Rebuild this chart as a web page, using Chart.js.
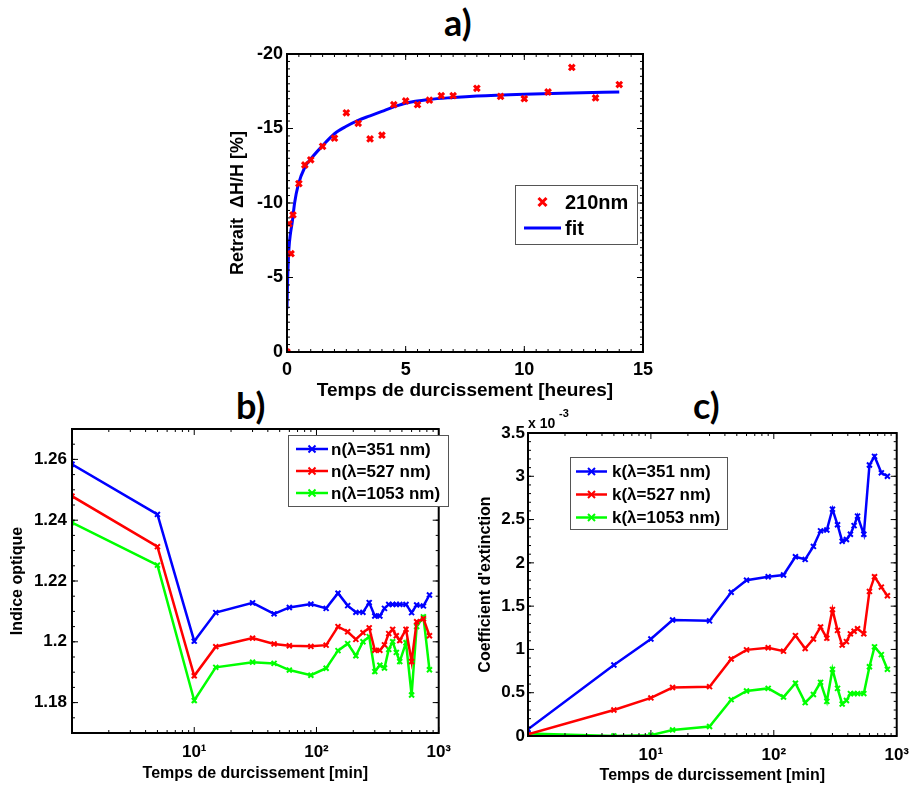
<!DOCTYPE html>
<html>
<head>
<meta charset="utf-8">
<script src="https://cdn.jsdelivr.net/npm/chart.js@4.4.1/dist/chart.umd.min.js"></script>
<style>
  body { margin: 0; background: #fff; width: 918px; height: 786px; position: relative; overflow: hidden; }
  canvas { position: absolute; }
  .panel { position: absolute; font: bold 36px Lato, "Open Sans", sans-serif; line-height: 1; color: #000; }
</style>
</head>
<body>
<div class="panel" style="left:444px;top:4px">a)</div>
<div class="panel" style="left:236px;top:387px">b)</div>
<div class="panel" style="left:693px;top:387px">c)</div>
<canvas id="chartA" width="480" height="410" style="left:180px;top:0"></canvas>
<canvas id="chartB" width="460" height="391" style="left:0;top:395px"></canvas>
<canvas id="chartC" width="458" height="391" style="left:460px;top:395px"></canvas>
<script>
// a) retrait, 210nm film
const shrinkHours = [0, 0.083, 0.17, 0.25, 0.5, 0.75, 1, 1.5, 2, 2.5, 3, 3.5, 4, 4.5, 5, 5.5, 6, 6.5, 7, 8, 9, 10, 11, 12, 13, 14];
const shrinkPct = [0, -8.6, -6.6, -9.2, -11.3, -12.55, -12.9, -13.8, -14.35, -16.05, -15.35, -14.3, -14.55, -16.6, -16.85, -16.6, -16.9, -17.2, -17.2, -17.7, -17.15, -17.0, -17.45, -19.1, -17.05, -17.95];
const fitHours = [0, 0.03, 0.08, 0.15, 0.22, 0.32, 0.47, 0.75, 1, 1.5, 2, 2.5, 3, 3.5, 4, 4.5, 5, 6, 7, 8, 10, 12, 14];
const fitPct = [-2.9, -5.0, -6.9, -8.0, -8.7, -10.0, -11.2, -12.4, -12.95, -13.85, -14.65, -15.15, -15.55, -15.85, -16.15, -16.45, -16.7, -16.95, -17.08, -17.18, -17.3, -17.38, -17.45];

// b) and c) cure time in minutes
const cureMin = [1, 5, 10, 15, 30, 45, 60, 90, 120, 150, 180, 210, 240, 270, 300, 330, 360, 390, 420, 450, 480, 540, 600, 660, 750, 840];
const n351 = [1.2584, 1.2419, 1.2002, 1.2096, 1.2128, 1.2092, 1.2113, 1.2124, 1.2110, 1.2160, 1.2119, 1.2097, 1.2097, 1.2129, 1.2085, 1.2085, 1.2110, 1.2123, 1.2123, 1.2123, 1.2123, 1.2123, 1.2096, 1.2121, 1.2118, 1.2154];
const n527 = [1.2479, 1.2313, 1.1888, 1.1984, 1.2012, 1.1993, 1.1987, 1.1985, 1.1989, 1.2050, 1.2033, 1.2008, 1.2030, 1.2046, 1.1972, 1.1972, 1.1990, 1.2027, 1.2041, 1.2020, 1.2004, 1.2041, 1.1935, 1.2066, 1.2076, 1.2020];
const n1053 = [1.2392, 1.2252, 1.1807, 1.1916, 1.1933, 1.1929, 1.1907, 1.1890, 1.1913, 1.1971, 1.1994, 1.1954, 1.2000, 1.2017, 1.1902, 1.1923, 1.1914, 1.1975, 1.2000, 1.1965, 1.1935, 1.1997, 1.1825, 1.2050, 1.2082, 1.1908];
const k351 = [0.077, 0.82, 1.12, 1.34, 1.33, 1.66, 1.80, 1.84, 1.86, 2.07, 2.04, 2.19, 2.37, 2.38, 2.62, 2.44, 2.25, 2.27, 2.33, 2.43, 2.54, 2.33, 3.13, 3.23, 3.04, 3.00];
const k527 = [0.02, 0.30, 0.44, 0.56, 0.57, 0.89, 0.995, 1.02, 0.98, 1.16, 1.01, 1.12, 1.26, 1.13, 1.46, 1.22, 1.05, 1.09, 1.18, 1.21, 1.24, 1.18, 1.67, 1.84, 1.72, 1.62];
const k1053 = [0.03, 0.0, 0.01, 0.07, 0.11, 0.42, 0.52, 0.55, 0.45, 0.61, 0.385, 0.48, 0.62, 0.40, 0.77, 0.55, 0.37, 0.41, 0.49, 0.49, 0.49, 0.49, 0.80, 1.03, 0.94, 0.77];

const labelsA = ['210nm', 'fit'];
const labelsN = ['n(λ=351 nm)', 'n(λ=527 nm)', 'n(λ=1053 nm)'];
const labelsK = ['k(λ=351 nm)', 'k(λ=527 nm)', 'k(λ=1053 nm)'];

const xTicksA = [0, 5, 10, 15];
const yTicksA = [-20, -15, -10, -5, 0];
const yTicksN = [1.18, 1.2, 1.22, 1.24, 1.26];
const yTicksK = [0, 0.5, 1, 1.5, 2, 2.5, 3, 3.5];
const decadeTicks = [10, 100, 1000];
const decadeText = { 10: '10¹', 100: '10²', 1000: '10³' };

const FONT = '"Liberation Sans", Arial, sans-serif';
const colors = ['#0000ff', '#ff0000', '#00ff00'];

// minor tick values for the frame (axis decoration only)
const range = (a, b, s) => { const r = []; for (let v = a; v <= b + 1e-9; v += s) r.push(+v.toFixed(4)); return r; };
const logMinor = [];
[1, 10, 100].forEach(d => { for (let m = 2; m <= 9; m++) logMinor.push(m * d); });

// MATLAB-like box with inward ticks on all four sides
const frameTicks = {
  id: 'frameTicks',
  afterDatasetsDraw(chart, args, o) {
    const { ctx, chartArea: a, scales } = chart;
    ctx.save();
    ctx.strokeStyle = '#000';
    ctx.lineWidth = 1;
    const seg = (x1, y1, x2, y2) => { ctx.beginPath(); ctx.moveTo(x1, y1); ctx.lineTo(x2, y2); ctx.stroke(); };
    const marks = (scale, vals, len) => {
      vals.forEach(v => {
        const p = scale.getPixelForValue(v);
        if (scale.isHorizontal()) {
          if (p < a.left - 0.5 || p > a.right + 0.5) return;
          seg(p, a.bottom, p, a.bottom - len);
          seg(p, a.top, p, a.top + len);
        } else {
          if (p < a.top - 0.5 || p > a.bottom + 0.5) return;
          seg(a.left, p, a.left + len, p);
          seg(a.right, p, a.right - len, p);
        }
      });
    };
    marks(scales.x, o.xMinor || [], o.minorLen);
    marks(scales.x, o.xMajor || [], o.majorLen);
    marks(scales.y, o.yMinor || [], o.minorLen);
    marks(scales.y, o.yMajor || [], o.majorLen);
    ctx.lineWidth = 2;
    ctx.strokeRect(a.left, a.top, a.right - a.left, a.bottom - a.top);
    if (o.exponent) {
      ctx.fillStyle = '#000';
      ctx.textBaseline = 'alphabetic';
      ctx.font = 'bold 14px ' + FONT;
      ctx.fillText('x 10', a.left, a.top - 5);
      ctx.font = 'bold 11px ' + FONT;
      ctx.fillText('-3', a.left + 31, a.top - 16);
    }
    ctx.restore();
  }
};

// legend drawn as a framed box inside the axes
const boxLegend = {
  id: 'boxLegend',
  afterDraw(chart, args, o) {
    const { ctx, chartArea: a } = chart;
    const bx = a.left + o.x, by = a.top + o.y;
    ctx.save();
    ctx.fillStyle = '#fff';
    ctx.fillRect(bx, by, o.w, o.h);
    ctx.strokeStyle = '#555';
    ctx.lineWidth = 1;
    ctx.strokeRect(bx + 0.5, by + 0.5, o.w, o.h);
    ctx.font = 'bold ' + o.size + 'px ' + FONT;
    ctx.textBaseline = 'middle';
    chart.data.datasets.forEach((ds, i) => {
      const cy = by + o.pad + o.rowH * (i + 0.5);
      const x0 = bx + o.inset, x1 = x0 + o.line;
      if (ds.showLine !== false) {
        ctx.strokeStyle = ds.borderColor;
        ctx.lineWidth = ds.borderWidth;
        ctx.beginPath(); ctx.moveTo(x0, cy); ctx.lineTo(x1, cy); ctx.stroke();
      }
      if (ds.pointRadius > 0) {
        const r = ds.pointRadius, cx = (x0 + x1) / 2;
        ctx.strokeStyle = ds.pointBorderColor || ds.borderColor;
        ctx.lineWidth = ds.pointBorderWidth;
        ctx.beginPath();
        ctx.moveTo(cx - r, cy - r); ctx.lineTo(cx + r, cy + r);
        ctx.moveTo(cx - r, cy + r); ctx.lineTo(cx + r, cy - r);
        ctx.stroke();
      }
      ctx.fillStyle = '#000';
      ctx.fillText(ds.label, x1 + o.gap, cy + 1);
    });
    ctx.restore();
  }
};

const pairs = (xs, ys) => xs.map((x, i) => ({ x, y: ys[i] }));
const fixTicks = vals => scale => { scale.ticks = vals.map(v => ({ value: v })); };

// ---- a) ----
new Chart(document.getElementById('chartA'), {
  type: 'scatter',
  data: {
    datasets: [{
      label: labelsA[0],
      data: pairs(shrinkHours, shrinkPct),
      showLine: false,
      borderColor: '#ff0000',
      pointStyle: 'crossRot',
      pointRadius: 4,
      pointBorderWidth: 3,
      pointBorderColor: '#ff0000'
    }, {
      label: labelsA[1],
      data: pairs(fitHours, fitPct),
      showLine: true,
      borderColor: '#0000ff',
      borderWidth: 3,
      pointRadius: 0,
      cubicInterpolationMode: 'monotone'
    }]
  },
  options: {
    responsive: false,
    animation: false,
    layout: { padding: { top: 54, right: 8, left: 40, bottom: 0 } },
    plugins: {
      legend: { display: false },
      tooltip: { enabled: false },
      frameTicks: { xMajor: xTicksA, xMinor: range(0, 15, 0.5), yMajor: yTicksA, yMinor: range(-20, 0, 0.5), majorLen: 6, minorLen: 3 },
      boxLegend: { x: 228, y: 131, w: 122, h: 59, pad: 4, rowH: 26, inset: 9, line: 37, gap: 4, size: 20 }
    },
    scales: {
      x: {
        type: 'linear', min: 0, max: 15,
        afterBuildTicks: fixTicks(xTicksA),
        afterFit: s => { s.height = 58; },
        grid: { display: false, drawTicks: false },
        border: { display: false },
        ticks: { color: '#000', padding: 7, maxRotation: 0, font: { family: FONT, size: 18, weight: 'bold' } },
        title: { display: true, text: 'Temps de durcissement [heures]', color: '#000', padding: { top: 0, bottom: 8 }, font: { family: FONT, size: 19, weight: 'bold' } }
      },
      y: {
        type: 'linear', min: -20, max: 0, reverse: true,
        afterBuildTicks: fixTicks(yTicksA),
        afterFit: s => { s.width = 67; },
        grid: { display: false, drawTicks: false },
        border: { display: false },
        ticks: { color: '#000', padding: 4, font: { family: FONT, size: 18, weight: 'bold' } },
        title: { display: true, text: 'Retrait  ΔH/H [%]', color: '#000', padding: { top: 7, bottom: 0 }, font: { family: FONT, size: 18, weight: 'bold' } }
      }
    }
  },
  plugins: [frameTicks, boxLegend]
});

// ---- b) and c) ----
function cureChart(id, series, names, yMin, yMax, yTicks, yMinor, yTitle, geo) {
  return new Chart(document.getElementById(id), {
    type: 'scatter',
    data: {
      datasets: series.map((vals, i) => ({
        label: names[i],
        data: pairs(cureMin, vals),
        showLine: true,
        borderColor: colors[i],
        borderWidth: 2.5,
        pointStyle: 'crossRot',
        pointRadius: 3.5,
        pointBorderWidth: 2,
        pointBorderColor: colors[i]
      }))
    },
    options: {
      responsive: false,
      animation: false,
      layout: { padding: { top: geo.top, right: geo.right, left: 0, bottom: 0 } },
      plugins: {
        legend: { display: false },
        tooltip: { enabled: false },
        frameTicks: { xMajor: decadeTicks, xMinor: logMinor, yMajor: yTicks, yMinor: yMinor, majorLen: 6, minorLen: 3, exponent: geo.exponent },
        boxLegend: geo.legend
      },
      scales: {
        x: {
          type: 'logarithmic', min: 1, max: 1000,
          afterBuildTicks: fixTicks(decadeTicks),
          afterFit: s => { s.height = geo.xHeight; },
          grid: { display: false, drawTicks: false },
          border: { display: false },
          ticks: { color: '#000', padding: geo.xPad, maxRotation: 0, autoSkip: false, callback: v => decadeText[v] || '', font: { family: FONT, size: 17, weight: 'bold' } },
          title: { display: true, text: 'Temps de durcissement [min]', color: '#000', padding: { top: 0, bottom: geo.xTitlePad }, font: { family: FONT, size: 16, weight: 'bold' } }
        },
        y: {
          type: 'linear', min: yMin, max: yMax,
          afterBuildTicks: fixTicks(yTicks),
          afterFit: s => { s.width = geo.yWidth; },
          grid: { display: false, drawTicks: false },
          border: { display: false },
          ticks: { color: '#000', padding: geo.yPad, callback: v => String(+v.toFixed(3)), font: { family: FONT, size: 17, weight: 'bold' } },
          title: { display: true, text: yTitle, color: '#000', padding: { top: geo.yTitlePad, bottom: 0 }, font: { family: FONT, size: 16, weight: 'bold' } }
        }
      }
    },
    plugins: [frameTicks, boxLegend]
  });
}

cureChart('chartB', [n351, n527, n1053], labelsN, 1.17, 1.27, yTicksN, range(1.17, 1.27, 0.005), 'Indice optique', {
  top: 34, right: 6, yWidth: 72, xHeight: 53, xPad: 9, xTitlePad: 3, yPad: 5, yTitlePad: 8, exponent: false,
  legend: { x: 216, y: 6, w: 160, h: 71, pad: 3, rowH: 22, inset: 8, line: 32, gap: 3, size: 17 }
});

cureChart('chartC', [k351, k527, k1053], labelsK, 0, 3.5, yTicksK, range(0, 3.5, 0.1), "Coefficient d'extinction", {
  top: 38, right: 12, yWidth: 68, xHeight: 50, xPad: 9, xTitlePad: 1, yPad: 3, yTitlePad: 16, exponent: true,
  legend: { x: 42, y: 24, w: 157, h: 72, pad: 3, rowH: 23, inset: 6, line: 31, gap: 5, size: 17 }
});
</script>
</body>
</html>
